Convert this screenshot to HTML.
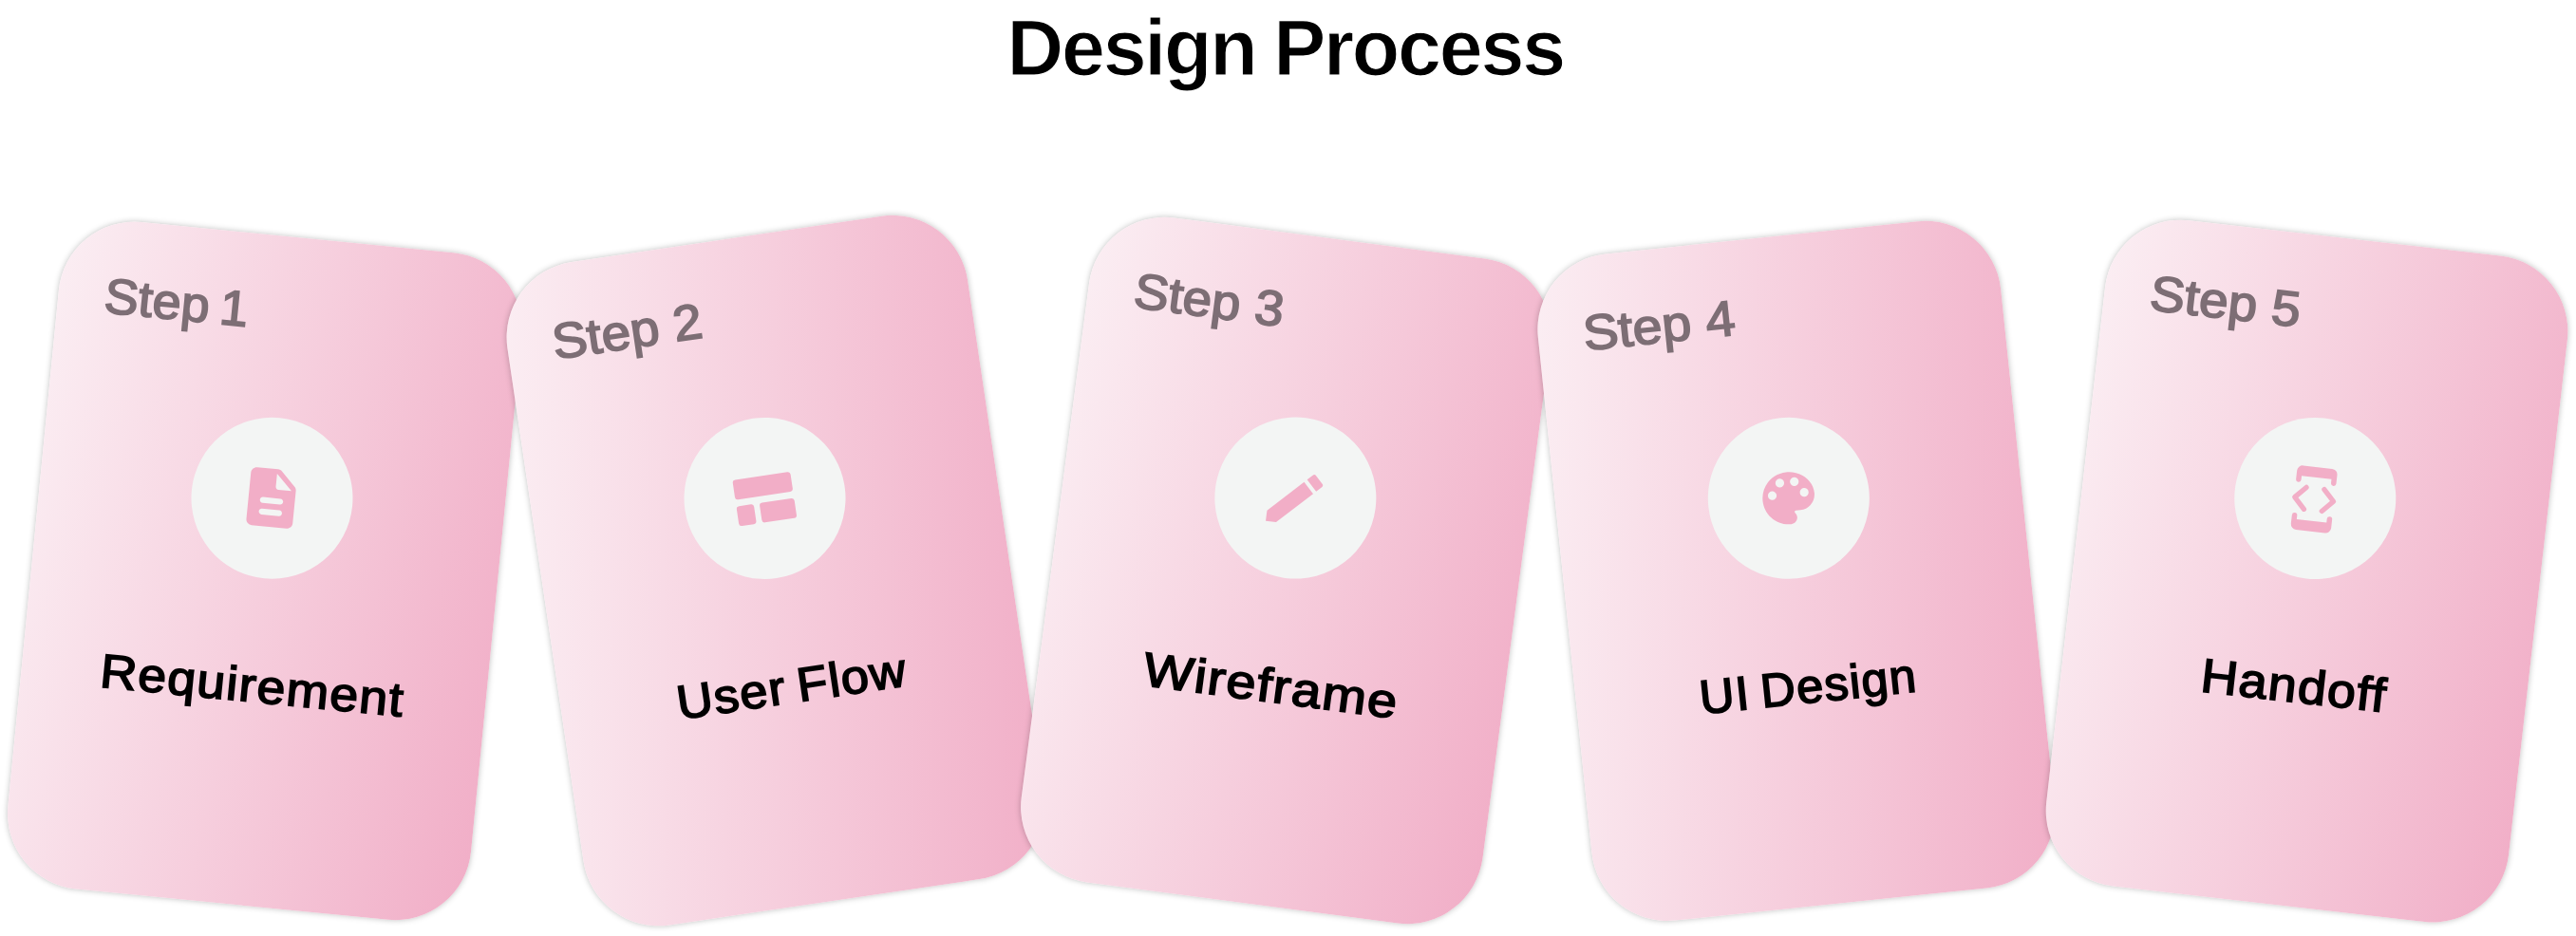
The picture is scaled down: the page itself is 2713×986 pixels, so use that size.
<!DOCTYPE html><html lang="en"><head><meta charset="utf-8"><title>Design Process</title><style>

html,body{margin:0;padding:0;background:#fff;}
body{width:2713px;height:986px;position:relative;overflow:hidden;font-family:"Liberation Sans",sans-serif;}
h1{position:absolute;left:-2.8px;top:1px;width:2713px;margin:0;text-align:center;font-size:82.6px;line-height:100px;font-weight:700;color:#000;letter-spacing:-2.25px;word-spacing:-2px;-webkit-text-stroke:1.2px #fff;}
.card{position:absolute;width:490px;height:706px;border-radius:80px;background:linear-gradient(98deg,#fbeef3 0%,#f1aec7 100%);box-shadow:0 0 6px rgba(0,0,0,.25);}
.step{position:absolute;font-size:52.3px;line-height:62px;color:#7d6e75;white-space:nowrap;-webkit-text-stroke:1.7px #7d6e75;}
.circ{position:absolute;left:160.0px;top:191.0px;width:170px;height:170px;border-radius:50%;background:#f3f5f4;}
.ic{position:absolute;left:49px;top:49px;}
.title{position:absolute;font-size:50.2px;line-height:60px;font-weight:400;color:#000;white-space:nowrap;letter-spacing:1.3px;word-spacing:-4px;-webkit-text-stroke:1.7px #000;}

</style></head><body>
<h1>Design Process</h1>
<div class="card" style="left:0;top:0;transform:translate(33.95px,248.40px) rotate(5.62deg)"><div class="step" style="left:0;top:0;transform:translate(124.72px,80.67px) translate(-50%,-50%) scaleX(1.0326)">Step <span style="margin-left:-4px">1</span></div><div class="circ"><svg class="ic" style="left:48.25px;top:48.25px" width="73.5" height="73.5" viewBox="0 0 24 24"><path fill="#f2aec7" d="M14.59 2.59c-.38-.38-.89-.59-1.42-.59H6c-1.1 0-2 .9-2 2v16c0 1.1.89 2 1.99 2H18c1.1 0 2-.9 2-2V8.830c0-.53-.21-1.040-.59-1.410l-4.820-4.830zM15 18H9c-.55 0-1-.45-1-1s.45-1 1-1h6c.55 0 1 .45 1 1s-.45 1-1 1zm0-4H9c-.55 0-1-.45-1-1s.45-1 1-1h6c.55 0 1 .45 1 1s-.45 1-1 1zm-2-6V3.500L18.500 9H14c-.55 0-1-.45-1-1z"/></svg></div><div class="title" style="left:0;top:0;transform:translate(243.80px,474.55px) translate(-50%,-50%) scaleX(1.0656)">Requirement</div></div>
<div class="card" style="left:0;top:0;transform:translate(571.80px,248.10px) rotate(-8.43deg)"><div class="step" style="left:0;top:0;transform:translate(127.35px,80.78px) translate(-50%,-50%) scaleX(1.0514)">Step 2</div><div class="circ"><svg class="ic" width="72" height="72" viewBox="-36 -36 72 72"><g fill="#f2aec7"><rect x="-31" y="-23.900" width="61.500" height="21" rx="3"/><rect x="-31" y="4.200" width="18.500" height="21" rx="3"/><rect x="-6.500" y="4.200" width="37" height="21" rx="3"/></g></svg></div><div class="title" style="left:0;top:0;transform:translate(243.91px,476.25px) translate(-50%,-50%) scaleX(1.0461)">User Flow</div></div>
<div class="card" style="left:0;top:0;transform:translate(1109.30px,247.95px) rotate(7.5deg)"><div class="step" style="left:0;top:0;transform:translate(127.63px,80.95px) translate(-50%,-50%) scaleX(1.0497)">Step 3</div><div class="circ"><svg class="ic" style="left:45px;top:45px;overflow:visible" width="80" height="80" viewBox="-40 -40 80 80"><g fill="#f2aec7" transform="rotate(-45)"><path d="M-39.500 0 L-31.700 -7.800 H17.500 V7.800 H-31.700 Z"/><path d="M21.500 -7.800 H29 a2.500 2.500 0 0 1 2.500 2.500 V5.300 a2.500 2.500 0 0 1 -2.500 2.500 H21.500 Z"/></g></svg></div><div class="title" style="left:0;top:0;transform:translate(245.41px,475.51px) translate(-50%,-50%) scaleX(1.1113)">Wireframe</div></div>
<div class="card" style="left:0;top:0;transform:translate(1646.80px,248.40px) rotate(-5.95deg)"><div class="step" style="left:0;top:0;transform:translate(127.93px,81.00px) translate(-50%,-50%) scaleX(1.0624)">Step 4</div><div class="circ"><svg class="ic" style="left:52px;top:52px" width="66" height="66" viewBox="0 0 24 24"><path fill="#f2aec7" d="M12 2C6.490 2 2 6.490 2 12s4.490 10 10 10c1.380 0 2.500-1.120 2.500-2.500 0-.61-.23-1.200-.64-1.670-.08-.1-.13-.21-.13-.33 0-.28.22-.5.5-.5H16c3.310 0 6-2.690 6-6 0-4.960-4.490-9-10-9z"/><g fill="#f3f5f4"><circle cx="9.200" cy="5.900" r="1.670"/><circle cx="14.800" cy="5.900" r="1.670"/><circle cx="5.850" cy="10.400" r="1.670"/><circle cx="18.150" cy="10.400" r="1.670"/></g></svg></div><div class="title" style="left:0;top:0;transform:translate(244.85px,475.56px) translate(-50%,-50%) scaleX(1.0083)">UI Design</div></div>
<div class="card" style="left:0;top:0;transform:translate(2184.55px,248.55px) rotate(6.5deg)"><div class="step" style="left:0;top:0;transform:translate(127.78px,80.44px) translate(-50%,-50%) scaleX(1.0531)">Step 5</div><div class="circ"><svg class="ic" style="left:48px;top:49.5px" width="72" height="72" viewBox="-36 -36 72 72"><g fill="#f2aec7"><path d="M-21.300 -19 V-28 a6 6 0 0 1 6 -6 H15.300 a6 6 0 0 1 6 6 V-19 a2.750 2.750 0 0 1 -5.500 0 V-23 H-15.800 V-19 a2.750 2.750 0 0 1 -5.500 0 Z"/><path d="M-21.300 19 V28 a6 6 0 0 0 6 6 H15.300 a6 6 0 0 0 6 -6 V19 a2.750 2.750 0 0 0 -5.500 0 V23 H-15.800 V19 a2.750 2.750 0 0 0 -5.500 0 Z"/></g><g fill="none" stroke="#f2aec7" stroke-width="5.300" stroke-linecap="round" stroke-linejoin="round"><path d="M-9.500 -11.500 L-20.500 0 L-9.500 11.500"/><path d="M9.500 -11.500 L20.500 0 L9.500 11.500"/></g></svg></div><div class="title" style="left:0;top:0;transform:translate(245.31px,474.59px) translate(-50%,-50%) scaleX(1.0696)">Handoff</div></div>
</body></html>
